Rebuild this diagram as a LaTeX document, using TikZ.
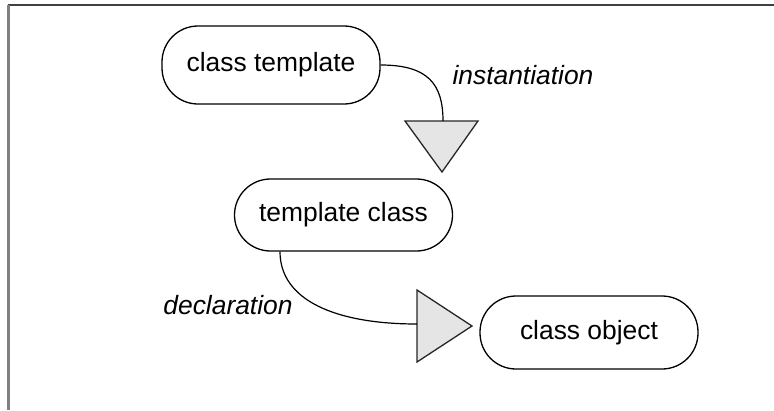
\documentclass[tikz,border=0pt]{standalone}
\usepackage{fontspec}
\setmainfont{Liberation Sans}
\begin{document}
\begin{tikzpicture}[x=1pt,y=-1pt,
  box/.style={draw=black, line width=1.3pt, rounded corners=36pt, minimum width=218pt, inner sep=0pt, font=\fontsize{26.4}{30}\selectfont},
  lbl/.style={inner sep=0pt, font=\fontsize{26.4}{30}\selectfont\itshape},
  conn/.style={draw=black, line width=1.2pt},
  tri/.style={draw=black!85, fill=black!10, line width=1.3pt, line join=miter}]
\useasboundingbox (0,0) rectangle (774,410);
% frame
\draw[line width=2pt, color=black!75] (8,5) -- (774,5);
\draw[line width=2.5pt, color=black!50] (8.5,5) -- (8.5,410);
% nodes
\node[box, minimum height=78pt] (ct) at (271,65) {class template};
\node[box, minimum height=72pt] (tc) at (343.5,215) {template class};
\node[box, minimum height=73pt] (co) at (589,332.5) {class object};
% labels
\node[lbl] (inst) at (523,75) {instantiation};
\node[lbl] (decl) at (228,305) {declaration};
% triangles
\draw[tri] (405,121) -- (478,121) -- (442,172) -- cycle;
\coordinate (t1) at (443,121);
\draw[tri] (417,290) -- (417,362) -- (472,326) -- cycle;
\coordinate (t2) at (417,324);
% connectors
\draw[conn] (ct.east) .. controls (428,65) and (443,84) .. (t1);
\draw[conn] ([xshift=-63.5pt]tc.south) .. controls (280,300) and (335,324) .. (t2);
\end{tikzpicture}
\end{document}
